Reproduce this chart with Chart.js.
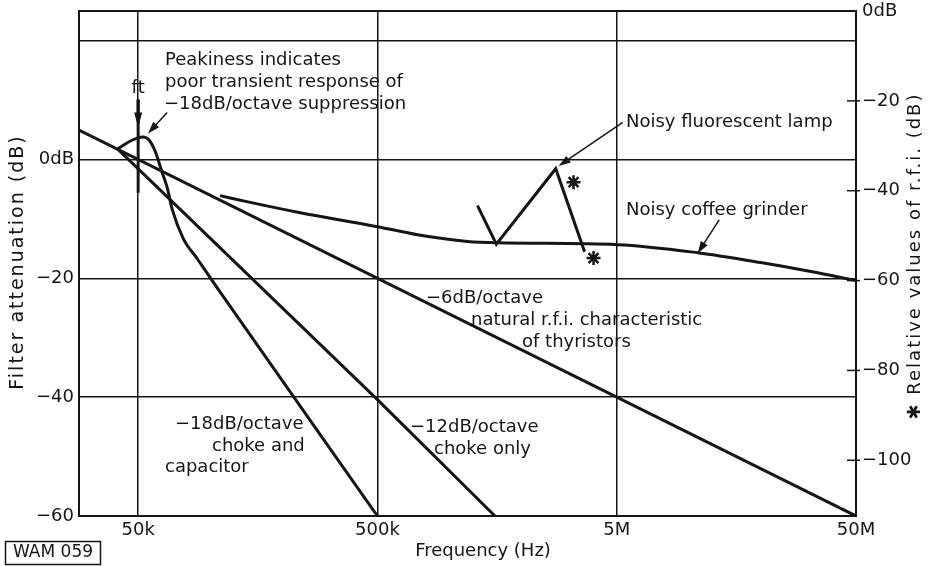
<!DOCTYPE html>
<html>
<head>
<meta charset="utf-8">
<script src="https://cdn.jsdelivr.net/npm/chart.js@4"></script>
<style>
  html, body { margin: 0; padding: 0; background: #fff; }
  canvas { display: block; }
</style>
</head>
<body>
<canvas id="rfiChart" width="933" height="566"></canvas>
<script>
// frequency axis (Hz)
var freqTicks = [50000, 500000, 5000000, 50000000];
var freqLabels = ['50k', '500k', '5M', '50M'];

// left axis: filter attenuation (dB)
var attenTicks = [-60, -40, -20, 0, 20];
var attenLabels = ['−60', '−40', '−20', '0dB', ''];

// right axis: relative r.f.i. (dB)
var rfiTicks = [-100, -80, -60, -40, -20, 0];
var rfiLabels = ['−100', '−80', '−60', '−40', '−20', '0dB'];

// filter responses, [Hz, dB] on the left axis
var slope6 = [[28300, 4.95], [50000000, -60]];
var slope12 = [[41200, 1.7], [500000, -40.4], [1550000, -60]];
var slope18 = [[41200, 1.8], [45400, 2.9], [49500, 3.6], [52500, 3.8], [55500, 3.3], [58900, 1.4],
               [63000, -2.2], [66100, -4.7], [69400, -8.4], [77200, -13.3], [88300, -16.7],
               [107000, -21.6], [500000, -60]];

// noise sources, [Hz, dB] on the right axis
var coffeeGrinder = [[110000, -41.1], [147000, -42.6], [238000, -44.9], [500000, -48.0],
                     [735000, -49.8], [1190000, -51.3], [1590000, -51.6], [5050000, -52.0],
                     [10900000, -53.8], [20000000, -56.0], [32400000, -58.0], [50000000, -60]];
var fluorescentLamp = [[1310000, -43.3], [1570000, -51.9], [2780000, -35.1], [3670000, -53.6]];
var lampStars = [[3300000, -38.1], [4000000, -55.0]];

var ink = '#151515';
var face = '"DejaVu Sans", sans-serif';

function pts(arr) {
    return arr.map(function(p) { return { x: p[0], y: p[1] }; });
}

function trace(data, axis, smooth) {
    return {
        data: pts(data),
        yAxisID: axis,
        borderColor: ink,
        borderWidth: 3,
        pointRadius: 0,
        fill: false,
        cubicInterpolationMode: smooth ? 'monotone' : 'default',
        tension: 0
    };
}

function arrow(ctx, x1, y1, x2, y2, len, half) {
    var a = Math.atan2(y2 - y1, x2 - x1);
    ctx.beginPath();
    ctx.moveTo(x1, y1);
    ctx.lineTo(x2 - Math.cos(a) * len * 0.6, y2 - Math.sin(a) * len * 0.6);
    ctx.stroke();
    ctx.beginPath();
    ctx.moveTo(x2, y2);
    ctx.lineTo(x2 - Math.cos(a) * len - Math.sin(a) * half, y2 - Math.sin(a) * len + Math.cos(a) * half);
    ctx.lineTo(x2 - Math.cos(a) * len + Math.sin(a) * half, y2 - Math.sin(a) * len - Math.cos(a) * half);
    ctx.closePath();
    ctx.fill();
}

// keep the plot frame where the axes say, not where the end labels push it
function noEndPadding(s) {
    s.paddingTop = 0;
    s.paddingBottom = 0;
}

// frame, tick marks, notes and titles
var decorations = {
    id: 'decorations',
    afterDraw: function(chart) {
        var ctx = chart.ctx;
        var area = chart.chartArea;
        var sx = chart.scales.x, sy = chart.scales.y, sr = chart.scales.y2;
        ctx.save();
        ctx.strokeStyle = ink;
        ctx.fillStyle = ink;

        ctx.lineWidth = 2;
        ctx.strokeRect(area.left, area.top, area.right - area.left, area.bottom - area.top);

        // right axis ticks cross the frame
        ctx.lineWidth = 1.5;
        rfiTicks.forEach(function(v) {
            if (v === 0) return;
            var y = sr.getPixelForValue(v);
            ctx.beginPath();
            ctx.moveTo(area.right - 9, y);
            ctx.lineTo(area.right + 4, y);
            ctx.stroke();
        });

        // ft marker at 50k
        var fx = sx.getPixelForValue(50000);
        ctx.lineWidth = 3;
        ctx.beginPath();
        ctx.moveTo(fx, sy.getPixelForValue(10.1));
        ctx.lineTo(fx, sy.getPixelForValue(-5.6));
        ctx.stroke();
        arrow(ctx, fx, sy.getPixelForValue(10.1), fx, sy.getPixelForValue(5.4), 15, 4);

        // pointer arrows
        ctx.lineWidth = 1.5;
        arrow(ctx, sx.getPixelForValue(66100), sy.getPixelForValue(7.9),
              sx.getPixelForValue(55000), sy.getPixelForValue(4.4), 12, 4);
        arrow(ctx, sx.getPixelForValue(5300000), sr.getPixelForValue(-24.8),
              sx.getPixelForValue(2860000), sr.getPixelForValue(-34.5), 12, 4);
        arrow(ctx, sx.getPixelForValue(13400000), sr.getPixelForValue(-46.5),
              sx.getPixelForValue(10900000), sr.getPixelForValue(-53.9), 12, 4);

        ctx.font = '18px ' + face;
        ctx.textBaseline = 'middle';
        ctx.textAlign = 'left';
        var notes = [
            ['Peakiness indicates', 165, 60],
            ['poor transient response of', 165, 82],
            ['−18dB/octave suppression', 164, 104],
            ['Noisy fluorescent lamp', 626, 122],
            ['Noisy coffee grinder', 626, 210],
            ['−6dB/octave', 426, 298],
            ['natural r.f.i. characteristic', 471, 320],
            ['of thyristors', 522, 342],
            ['−12dB/octave', 410, 427],
            ['choke only', 434, 449],
            ['−18dB/octave', 175, 424],
            ['choke and', 212, 446],
            ['capacitor', 165, 467]
        ];
        notes.forEach(function(n) { ctx.fillText(n[0], n[1], n[2]); });

        ctx.textAlign = 'center';
        ctx.fillText('ft', fx, 88);
        ctx.fillText('Frequency (Hz)', 483, 551);

        ctx.letterSpacing = '2px';
        ctx.save();
        ctx.font = '19px ' + face;
        ctx.translate(18, 262);
        ctx.rotate(-Math.PI / 2);
        ctx.fillText('Filter attenuation (dB)', 0, 0);
        ctx.restore();

        ctx.save();
        ctx.translate(915, 256);
        ctx.rotate(-Math.PI / 2);
        ctx.fillText('✱ Relative values of r.f.i. (dB)', 0, 0);
        ctx.restore();
        ctx.letterSpacing = '0px';

        // drawing reference box
        ctx.lineWidth = 1.5;
        ctx.strokeRect(5.5, 541.5, 95, 23);
        ctx.font = '17px ' + face;
        ctx.fillText('WAM 059', 53, 553);
        ctx.restore();
    }
};

var tickFont = { family: face, size: 18 };

new Chart(document.getElementById('rfiChart').getContext('2d'), {
    type: 'line',
    data: {
        datasets: [
            trace(slope6, 'y', false),
            trace(slope12, 'y', false),
            trace(slope18, 'y', true),
            trace(coffeeGrinder, 'y2', true),
            trace(fluorescentLamp, 'y2', false),
            {
                type: 'scatter',
                data: pts(lampStars),
                yAxisID: 'y2',
                pointStyle: 'star',
                pointRadius: 7,
                borderWidth: 2.5,
                borderColor: ink,
                backgroundColor: ink,
                showLine: false
            }
        ]
    },
    options: {
        responsive: false,
        animation: false,
        devicePixelRatio: 1,
        layout: { padding: { top: 11, left: 0, right: 0, bottom: 0 } },
        plugins: { legend: { display: false }, tooltip: { enabled: false } },
        scales: {
            x: {
                type: 'logarithmic',
                min: 28300,
                max: 50000000,
                afterBuildTicks: function(s) { s.ticks = freqTicks.map(function(v) { return { value: v }; }); },
                afterFit: function(s) { s.height = 50; },
                ticks: {
                    autoSkip: false,
                    maxRotation: 0,
                    padding: 4,
                    color: ink,
                    font: tickFont,
                    callback: function(v) { var i = freqTicks.indexOf(v); return i < 0 ? '' : freqLabels[i]; }
                },
                grid: { color: ink, lineWidth: 1.5, drawTicks: false },
                border: { display: false }
            },
            y: {
                type: 'linear',
                position: 'left',
                min: -60,
                max: 25,
                afterBuildTicks: function(s) { s.ticks = attenTicks.map(function(v) { return { value: v }; }); },
                afterFit: function(s) { s.width = 79; noEndPadding(s); },
                ticks: {
                    padding: 5,
                    color: ink,
                    font: tickFont,
                    callback: function(v) { var i = attenTicks.indexOf(v); return i < 0 ? '' : attenLabels[i]; }
                },
                grid: { color: ink, lineWidth: 1.5, drawTicks: false },
                border: { display: false }
            },
            y2: {
                type: 'linear',
                position: 'right',
                min: -112.4,
                max: 0,
                afterBuildTicks: function(s) { s.ticks = rfiTicks.map(function(v) { return { value: v }; }); },
                afterFit: function(s) { s.width = 77; noEndPadding(s); },
                ticks: {
                    padding: 6,
                    color: ink,
                    font: tickFont,
                    callback: function(v) { var i = rfiTicks.indexOf(v); return i < 0 ? '' : rfiLabels[i]; }
                },
                grid: { drawOnChartArea: false, drawTicks: false },
                border: { display: false }
            }
        }
    },
    plugins: [decorations]
});
</script>
</body>
</html>
